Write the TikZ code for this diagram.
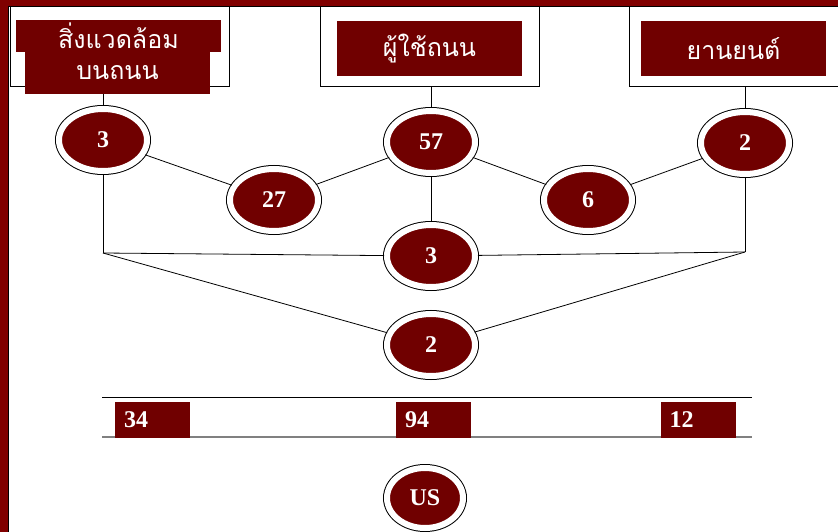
\documentclass[tikz,border=0pt]{standalone}
\usepackage{fontspec}
\setmainfont{Liberation Serif}
\newfontfamily\thaifont[Script=Thai]{Loma}
\usetikzlibrary{shapes.geometric}
\definecolor{boxred}{RGB}{112,0,0}
\definecolor{bandred}{RGB}{128,0,0}

\begin{document}
\begin{tikzpicture}[x=1pt,y=-1pt,line width=0.8pt,
                    num node/.style={ellipse,fill=boxred,draw=white,line width=6pt,
                      preaction={draw=black,line width=8pt},inner sep=0pt,
                      minimum width=88pt,minimum height=62pt,
                      text=white,font=\bfseries\fontsize{24}{26}\selectfont},
                    frame box/.style={rectangle,draw,fill=white,line width=1pt,
                      minimum width=219pt,minimum height=80pt},
                    label box/.style={rectangle,fill=boxred,text=white,inner sep=0pt,
                      font=\thaifont\fontsize{25}{28}\selectfont},
                    num tag/.style={rectangle,fill=boxred,text=white,align=left,
                      text width=57pt,inner xsep=9pt,inner ysep=0pt,minimum height=36pt,
                      font=\bfseries\fontsize{24}{26}\selectfont}]

  \clip (0,0) rectangle (838,532);
  \fill[white] (0,0) rectangle (838,532);
  % slide frame
  \fill[bandred] (0,0) rectangle (838,6);
  \fill[bandred] (0,0) rectangle (8,532);
  \draw[line width=1.2pt] (838,6.6) -- (8.6,6.6) -- (8.6,532);

  \node[frame box] (envbox) at (119.5,47) {};
  \node[frame box] (userbox) at (429.5,47) {};
  \node[frame box,minimum width=221pt] (carbox) at (739.5,47) {};

  \node[label box,minimum width=205pt,minimum height=32pt] (env1) at (118.5,36) {สิ่งแวดล้อม};
  \node[label box,minimum width=185pt,minimum height=42pt] (env2) at (117.5,73) {บนถนน};
  \node[label box,minimum width=185pt,minimum height=55pt] (user) at (429.5,48.5) {ผู้ใช้ถนน};
  \node[label box,minimum width=185pt,minimum height=55pt] (car) at (733.5,48.5) {ยานยนต์};

  \node[num node] (n3) at (103,140) {3};
  \node[num node] (n27) at (274,200) {27};
  \node[num node] (n57) at (431,142) {57};
  \node[num node] (n6) at (588,200) {6};
  \node[num node] (n2) at (745,143) {2};
  \node[num node] (m3) at (431,256) {3};
  \node[num node] (b2) at (431,345) {2};

  \coordinate (cl) at (103,253);
  \coordinate (cr) at (745,252);

  \path (env2.south -| n3) edge (n3)
        (userbox.south -| n57) edge (n57)
        (carbox.south -| n2) edge (n2)
    (n3)  edge (n27)
          edge (cl)
    (n27) edge (n57)
    (n57) edge (n6)
          edge (m3)
    (n6)  edge (n2)
    (n2)  edge (cr)
    (cl)  edge (m3)
          edge (b2)
    (cr)  edge (m3)
          edge (b2);

  % totals
  \draw (102,397) -- (752,397);
  \draw[gray,line width=1.5pt] (102,437) -- (752,437);
  \node[num tag] (t34) at (152.5,420) {34};
  \node[num tag] (t94) at (433.5,420) {94};
  \node[num tag] (t12) at (698,420) {12};

  \node[num node,minimum width=76pt,minimum height=60pt] (us) at (425,498) {US};
\end{tikzpicture}
\end{document}
